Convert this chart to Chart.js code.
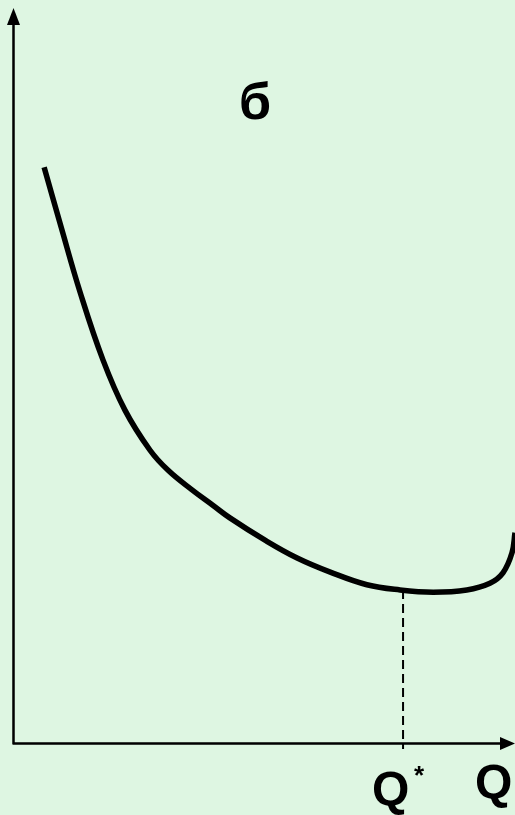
<!DOCTYPE html>
<html>
<head>
<meta charset="utf-8">
<script src="https://cdn.jsdelivr.net/npm/chart.js@4.4.1/dist/chart.umd.min.js"></script>
<style>
  html, body { margin: 0; padding: 0; background: #DEF6E2; }
  #wrap { width: 515px; height: 815px; position: relative; }
</style>
</head>
<body>
<div id="wrap"><canvas id="costChart"></canvas></div>
<script>
// curve: output Q (0..100) vs average cost (0..100)
var qValues = [6.2, 9.6, 13.4, 17.9, 22.3, 27.3, 30.9, 35.6, 39.8, 43.2, 50.2,
               56.6, 63.2, 70.5, 77.1, 83.7, 90.4, 95.0, 97.6, 99.4, 100];
var costValues = [77.5, 69.4, 60.6, 51.6, 44.8, 39.4, 36.7, 34.1, 32.0, 30.3, 27.3,
                  24.9, 23.0, 21.3, 20.6, 20.3, 20.6, 21.5, 22.9, 25.6, 28.3];
var qStar = 77.7;
var cAtQStar = 20.6;
var labels = { panel: 'б', axisX: 'Q', optimum: 'Q', star: '*' };

var black = '#000000';

// ------------------------------------------------------- //
// axes, arrows, dashed line and labels
// ------------------------------------------------------ //
var decorations = {
    id: 'decorations',
    afterDraw: function (chart) {
        var ctx = chart.ctx;
        var x = chart.scales.x, y = chart.scales.y;
        var x0 = x.getPixelForValue(0), y0 = y.getPixelForValue(0);
        var right = chart.width, top = 8;

        ctx.save();
        ctx.strokeStyle = black;
        ctx.fillStyle = black;
        ctx.lineWidth = 2.5;

        ctx.beginPath();
        ctx.moveTo(x0 + 0.5, y0 + 1);
        ctx.lineTo(x0 + 0.5, top + 12);
        ctx.moveTo(x0 - 0.5, y0 + 0.5);
        ctx.lineTo(right - 12, y0 + 0.5);
        ctx.stroke();

        // arrow heads
        ctx.beginPath();
        ctx.moveTo(x0 + 0.5, top);
        ctx.lineTo(x0 - 6, top + 17);
        ctx.lineTo(x0 + 7, top + 17);
        ctx.closePath();
        ctx.fill();
        ctx.beginPath();
        ctx.moveTo(right, y0 + 0.5);
        ctx.lineTo(right - 15, y0 - 6);
        ctx.lineTo(right - 15, y0 + 7);
        ctx.closePath();
        ctx.fill();

        // dashed drop line at Q*
        var xs = x.getPixelForValue(qStar);
        ctx.lineWidth = 2;
        ctx.setLineDash([9, 5]);
        ctx.beginPath();
        ctx.moveTo(xs, y.getPixelForValue(cAtQStar));
        ctx.lineTo(xs, y0 + 6);
        ctx.stroke();
        ctx.setLineDash([]);

        // texts
        ctx.textBaseline = 'alphabetic';
        ctx.textAlign = 'center';
        ctx.font = 'bold 52px "Liberation Sans", Arial, sans-serif';
        ctx.fillText(labels.panel, 255, 119);

        ctx.textAlign = 'left';
        ctx.font = 'bold 48px "Liberation Sans", Arial, sans-serif';
        ctx.fillText(labels.optimum, 372, 805);
        ctx.fillText(labels.axisX, 475, 798);
        ctx.font = 'bold 26px "Liberation Sans", Arial, sans-serif';
        ctx.fillText(labels.star, 414, 784);
        ctx.restore();
    }
};

var points = qValues.map(function (q, i) { return { x: q, y: costValues[i] }; });

var costChart = new Chart(document.getElementById('costChart'), {
    type: 'line',
    data: {
        datasets: [{
            data: points,
            borderColor: black,
            borderWidth: 5.5,
            borderCapStyle: 'butt',
            pointRadius: 0,
            tension: 0.4,
            fill: false
        }]
    },
    options: {
        responsive: true,
        maintainAspectRatio: false,
        animation: false,
        layout: { padding: { left: 13, right: 0, top: 0, bottom: 72 } },
        plugins: { legend: { display: false }, tooltip: { enabled: false } },
        scales: {
            x: { type: 'linear', min: 0, max: 100, display: false },
            y: { type: 'linear', min: 0, max: 100, display: false }
        }
    },
    plugins: [decorations]
});
</script>
</body>
</html>
